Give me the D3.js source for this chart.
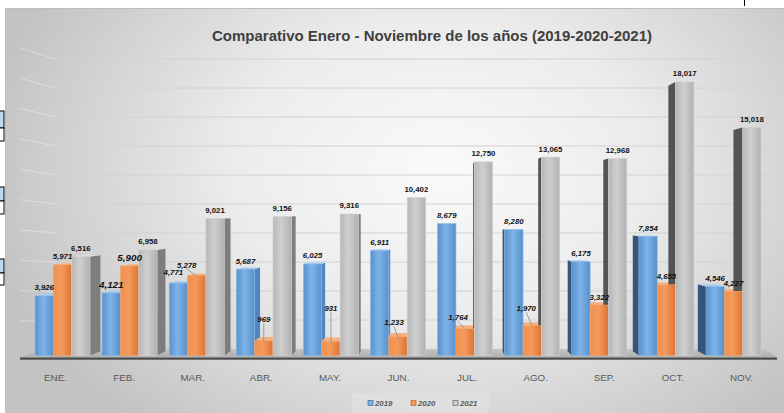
<!DOCTYPE html>
<html>
<head>
<meta charset="utf-8">
<script src="https://cdn.jsdelivr.net/npm/d3@7"></script>
<style>
  html, body { margin: 0; padding: 0; background: #ffffff; }
  svg { display: block; }
</style>
</head>
<body>
<svg id="chart" width="784" height="413"></svg>
<script>
// ---------------- DATA ----------------
const title = "Comparativo Enero - Noviembre de los años (2019-2020-2021)";
const months = ["ENE.", "FEB.", "MAR.", "ABR.", "MAY.", "JUN.", "JUL.", "AGO.", "SEP.", "OCT.", "NOV."];
const seriesNames = ["2019", "2020", "2021"];
const values2019 = [3926, 4121, 4771, 5687, 6025, 6911, 8679, 8280, 6175, 7854, 4546];
const values2020 = [5971, 5900, 5278, 969, 931, 1233, 1764, 1970, 3322, 4655, 4227];
const values2021 = [6516, 6958, 9021, 9156, 9316, 10402, 12750, 13065, 12968, 18017, 15018];
const gridValues = [0, 2000, 4000, 6000, 8000, 10000, 12000, 14000, 16000, 18000, 20000];

// ---------------- LAYOUT / STYLE (not data) ----------------
const W = 784, H = 413;
const VP = [435, 212];     // perspective vanishing point
const BAR_DEPTH = 0.97;    // back-face scale of bars
const palette = {
  "2019": { front: ["#5a91ca", "#7db4ea", "#5a90c9"], side: "#4f86bf", sideDark: "#35557a", top: "#a5cdf2" },
  "2020": { front: ["#f0914f", "#f39a5c", "#de7430"], side: "#c86a26", sideDark: "#a8561a", top: "#f7b07f" },
  "2021": { front: ["#b7b7b7", "#cfcfcf", "#b1b1b1"], side: "#7d7d7d", sideDark: "#545454", top: "#dedede" }
};
// label nudges (dx, dy, leader) for the labels that were moved and tied with leader lines
const labelNudge = {
  "MAR.|2019": [-5, -2.5, false],
  "MAR.|2020": [-10, -2, true],
  "ABR.|2020": [0, -13, true],
  "MAY.|2020": [0, -25, true],
  "JUN.|2020": [-4, -6, true],
  "JUL.|2020": [-7, -3, true],
  "AGO.|2020": [-6, -9, true]
};
const bigLabels = new Set(["FEB.|2019", "FEB.|2020"]);

const seriesValues = { "2019": values2019, "2020": values2020, "2021": values2021 };

// ---------------- SCALES ----------------
const x0 = d3.scaleBand().domain(months).range([28.96, 767.06]).paddingInner(0.18).paddingOuter(0.09);
const x1 = d3.scaleBand().domain(seriesNames).range([0, x0.bandwidth()]);
const y = d3.scaleLinear().domain([0, 20000]).range([355.5, 51.7]);
const yBack = d3.scaleLinear().domain([0, 20000]).range([349, 59]);
const xLabel = d3.scalePoint().domain(months).range([55, 741]);

const proj = (px, py, s) => [VP[0] + (px - VP[0]) * s, VP[1] + (py - VP[1]) * s];

const svg = d3.select("#chart");
const defs = svg.append("defs");

// background gradient
const bg = defs.append("radialGradient").attr("id", "bgGrad")
  .attr("gradientUnits", "userSpaceOnUse")
  .attr("cx", 440).attr("cy", 170).attr("r", 460)
  .attr("gradientTransform", "translate(440,170) scale(1,0.72) translate(-440,-170)");
bg.append("stop").attr("offset", 0).attr("stop-color", "#fafafa");
bg.append("stop").attr("offset", 0.45).attr("stop-color", "#ececec");
bg.append("stop").attr("offset", 1).attr("stop-color", "#c3c3c3");

seriesNames.forEach(s => {
  const g = defs.append("linearGradient").attr("id", "front" + s).attr("x1", 0).attr("x2", 1).attr("y1", 0).attr("y2", 0);
  g.append("stop").attr("offset", 0).attr("stop-color", palette[s].front[0]);
  g.append("stop").attr("offset", 0.45).attr("stop-color", palette[s].front[1]);
  g.append("stop").attr("offset", 1).attr("stop-color", palette[s].front[2]);
});

const floorGrad = defs.append("linearGradient").attr("id", "floorGrad").attr("x1", 0).attr("x2", 0).attr("y1", 0).attr("y2", 1);
floorGrad.append("stop").attr("offset", 0).attr("stop-color", "#c4c4c4");
floorGrad.append("stop").attr("offset", 1).attr("stop-color", "#aeaeae");

// ---------------- STRAY SHEET ARTIFACTS ----------------
const cells = [[111, 17, "#bdd7ee"], [128, 13, "#ffffff"], [187, 14, "#bdd7ee"], [201, 13, "#ffffff"], [259, 14, "#bdd7ee"], [273, 12, "#ffffff"]];
svg.append("g").selectAll("rect").data(cells).join("rect")
  .attr("x", -1).attr("y", d => d[0]).attr("width", 5).attr("height", d => d[1])
  .attr("fill", d => d[2]).attr("stroke", "#000").attr("stroke-width", 1);
svg.append("line").attr("x1", 744.5).attr("x2", 744.5).attr("y1", 0).attr("y2", 6).attr("stroke", "#000");

// ---------------- CHART AREA ----------------
svg.append("rect").attr("x", 5).attr("y", 8).attr("width", W - 5).attr("height", H - 8).attr("fill", "url(#bgGrad)");
svg.append("path").attr("d", `M5.5,${H} V8.5 H${W}`).attr("fill", "none").attr("stroke", "#bdbdbd").attr("stroke-width", 1);

// title
svg.append("text").attr("x", 432).attr("y", 41).attr("text-anchor", "middle")
  .attr("font-family", "'Liberation Sans', Arial, sans-serif").attr("font-weight", "bold")
  .attr("font-size", 15).attr("fill", "#404040")
  .attr("textLength", 440).attr("lengthAdjust", "spacingAndGlyphs")
  .text(title);

// gridlines on back wall + left side wall
const grid = svg.append("g");
grid.selectAll("line.back").data(gridValues.slice(1)).join("line").attr("class", "back")
  .attr("x1", 55).attr("x2", 768).attr("y1", d => yBack(d)).attr("y2", d => yBack(d))
  .attr("stroke", "#d2d2d2").attr("stroke-width", 1);
grid.selectAll("line.side").data(gridValues.slice(1)).join("line").attr("class", "side")
  .attr("x1", 20).attr("x2", 55).attr("y1", d => y(d) - 4).attr("y2", d => yBack(d))
  .attr("stroke", "#ffffff").attr("stroke-opacity", 0.35).attr("stroke-width", 1);

// floor
const fL = 20, fR = 777, fFront = 357.5, fBack = yBack(0);
svg.append("path")
  .attr("d", `M${fL},${fFront} L${fR},${fFront} L${fR - 12},${fBack} L${fL + 22},${fBack} Z`)
  .attr("fill", "url(#floorGrad)");
svg.append("rect").attr("x", fL).attr("y", fFront).attr("width", fR - fL).attr("height", 2.2).attr("fill", "#4a4a4a");

// ---------------- BARS ----------------
const bars = [];
months.forEach((m, i) => {
  seriesNames.forEach(s => {
    const v = seriesValues[s][i];
    const a = x0(m) + x1(s), b = a + x1.bandwidth();
    bars.push({ m, s, v, a, b, top: y(v), bot: y(0) });
  });
});

const faces = svg.append("g");
// side + top faces first (they lie behind every front face)
bars.forEach(d => {
  const rightSide = d.b < VP[0];
  const leftSide = d.a > VP[0];
  if (rightSide || leftSide) {
    const ex = rightSide ? d.b : d.a;
    const p1 = [ex, d.top], p2 = proj(ex, d.top, BAR_DEPTH), p3 = proj(ex, d.bot, BAR_DEPTH), p4 = [ex, d.bot];
    faces.append("path").attr("d", d3.line()([p1, p2, p3, p4]) + "Z")
      .attr("fill", leftSide ? palette[d.s].sideDark : palette[d.s].side);
  }
  const ta = proj(d.a, d.top, BAR_DEPTH), tb = proj(d.b, d.top, BAR_DEPTH);
  if (ta[1] < d.top) {
    faces.append("path").attr("d", d3.line()([[d.a, d.top], [d.b, d.top], tb, ta]) + "Z")
      .attr("fill", palette[d.s].top);
  }
});
// front faces
faces.selectAll("rect.front").data(bars).join("rect").attr("class", "front")
  .attr("x", d => d.a).attr("y", d => d.top).attr("width", d => d.b - d.a).attr("height", d => d.bot - d.top)
  .attr("fill", d => `url(#front${d.s})`)
  .attr("stroke", d => d.s === "2021" ? "#d4d4d4" : (d.s === "2019" ? "#8cbdeb" : "#f4a56e"))
  .attr("stroke-width", 0.6);

// ---------------- VALUE LABELS ----------------
const lab = svg.append("g");
bars.forEach(d => {
  const key = d.m + "|" + d.s;
  const nudge = labelNudge[key] || [0, 0, false];
  const cx = (d.a + d.b) / 2 + nudge[0];
  const cy = d.top - 8.5 + nudge[1];
  const big = bigLabels.has(key);
  if (nudge[2]) {
    lab.append("line").attr("x1", cx).attr("y1", cy + 4).attr("x2", (d.a + d.b) / 2).attr("y2", d.top + 1)
      .attr("stroke", "#8a8a8a").attr("stroke-width", 0.8);
  }
  lab.append("text").attr("x", cx).attr("y", cy + (big ? 3.6 : 3))
    .attr("text-anchor", "middle")
    .attr("font-family", "'Liberation Sans', Arial, sans-serif")
    .attr("font-weight", "bold")
    .attr("font-style", d.s === "2021" ? "normal" : "italic")
    .attr("font-size", big ? 9.8 : 7.8)
    .attr("fill", "#111")
    .text(d3.format(",")(d.v));
});

// ---------------- CATEGORY AXIS ----------------
const axis = svg.append("g").attr("transform", "translate(0,374)")
  .call(d3.axisBottom(xLabel).tickSize(0).tickPadding(0));
axis.select(".domain").remove();
axis.selectAll("text").attr("font-family", "'Liberation Sans', Arial, sans-serif")
  .attr("font-size", 9.8).attr("fill", "#595959");

// ---------------- LEGEND ----------------
svg.append("rect").attr("x", 352).attr("y", 393).attr("width", 137).attr("height", 20).attr("fill", "#ffffff").attr("opacity", 0.18);
const legX = d3.scaleOrdinal().domain(seriesNames).range([368, 411, 453]);
const leg = svg.append("g").selectAll("g").data(seriesNames).join("g")
  .attr("transform", s => `translate(${legX(s)},0)`);
leg.append("rect").attr("x", 0).attr("y", 400.5).attr("width", 5).attr("height", 5)
  .attr("fill", s => palette[s].front[1]).attr("stroke", s => palette[s].sideDark).attr("stroke-width", 0.6);
leg.append("text").attr("x", 7).attr("y", 406)
  .attr("font-family", "'Liberation Sans', Arial, sans-serif").attr("font-weight", "bold").attr("font-style", "italic")
  .attr("font-size", 7.8).attr("fill", "#595959").text(s => s);
</script>
</body>
</html>
